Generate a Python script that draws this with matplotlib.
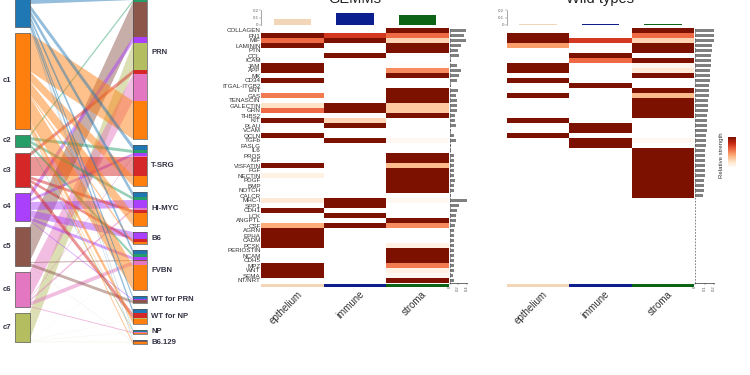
import numpy as np
import matplotlib
matplotlib.use("Agg")
import matplotlib.pyplot as plt
from matplotlib.colors import LinearSegmentedColormap

plt.rcParams['font.family'] = ['Liberation Sans', 'DejaVu Sans']

clusters = ["c0", "c1", "c2", "c3", "c4", "c5", "c6", "c7"]
cluster_colors = ["#1f77b4", "#ff7f0e", "#279e68", "#d62728", "#aa40fc", "#8c564b", "#e377c2", "#b5bd61"]
cluster_sizes = [56, 96, 12, 34, 28, 39, 35, 29]

models = ["PRN", "T-SRG", "HI-MYC", "B6", "FVBN", "WT for PRN", "WT for NP", "NP", "B6.129"]
# (cluster, width) stacked top to bottom in each model
prn_flows = [(0, 33), (2, 2), (5, 35), (4, 6), (7, 27), (3, 4), (6, 27), (1, 38)]
tsrg_flows = [(0, 5), (2, 3), (4, 3), (6, 1), (3, 19), (1, 10)]
himyc_flows = [(0, 5), (2, 3), (4, 8), (6, 2), (3, 3), (1, 13)]
b6_flows = [(4, 7), (3, 3), (1, 2)]
fvbn_flows = [(0, 4), (2, 3), (4, 3), (5, 1), (6, 4), (7, 0.4), (1, 25)]
wtprn_flows = [(0, 3), (4, 1), (5, 3)]
wtnp_flows = [(0, 4), (3, 5), (7, 0.4), (1, 5)]
np_flows = [(2, 1), (0, 1), (7, 0.4), (6, 1), (1, 1)]
b6129_flows = [(0, 1), (5, 0.5), (7, 0.8), (1, 2)]
model_flows = [prn_flows, tsrg_flows, himyc_flows, b6_flows, fvbn_flows, wtprn_flows, wtnp_flows, np_flows, b6129_flows]

genes = ["COLLAGEN", "FN1", "MIF", "LAMININ", "PTN", "CCL", "ICAM", "JAM", "APP", "MK", "CD34",
         "ITGAL-ITGB2", "ENT", "GAS", "TENASCIN", "GALECTIN", "GRN", "THBS2", "KIT", "PLAU",
         "VCAM", "OCLN", "TGFb", "FASLG", "IL6", "PROS", "IGF", "VISFATIN", "FGF", "NECTIN",
         "PDGF", "BMP", "NOTCH", "CALCR", "MHC-I", "SPP1", "CDH1", "LCK", "ANGPTL", "CSF",
         "AGRN", "EPHA", "CADM", "PCSK", "PERIOSTIN", "NCAM", "CDH5", "MPZ", "WNT", "SEMA", "NT/NRT"]
cell_types = ["epthelium", "immune", "stroma"]
cell_colors = ["#f3d6b8", "#0b1f8e", "#0c6414"]

gemm_epi = [0, 1, .6, 1, 0, 0, 0, 1, 1, 0, 1, 0, 0, .55, 0, .2, .6, 0, 1, 0, 0, 1, 0, 0, 0, 0,
            0, 1, 0, .1, 0, 0, 0, 0, .15, 0, 1, 0, 0, .4, 1, 1, 1, 1, 0, 0, 0, 1, 1, 1, 0]
gemm_imm = [0, .75, 1, 0, 0, 1, 0, 0, 0, 0, 0, 0, 0, 0, 0, 1, 1, 0, .25, 1, 0, 0, 1, 0, 0, 0,
            0, 0, 0, 0, 0, 0, 0, 0, 1, 1, 0, 1, 0, 1, 0, 0, 0, 0, 0, 0, 0, 0, 0, 0, 0]
gemm_str = [1, .6, .25, 1, 1, 0, 0, .02, .5, 1, 0, 0, 1, 1, 1, .3, .3, 1, 0, 0, 0, 0, .05, 0, 0, 1,
            1, .35, 1, 1, 1, 1, 1, 0, .05, 0, 0, 0, 1, .5, 0, 0, 0, .1, 1, 1, 1, .55, .1, .05, 1]

wt_epi = [0, 1, 1, .45, 0, 0, 0, 1, 1, 0, 1, 0, 0, 1, 0, 0, 0, 0, 1, 0, 0, 1, 0, 0, 0, 0,
          0, 0, 0, 0, 0, 0, 0, 0, 0, 0, 0, 0, 0, 0, 0, 0, 0, 0, 0, 0, 0, 0, 0, 0, 0]
wt_imm = [0, 0, .75, 0, 0, 1, .6, 0, 0, 0, 0, 1, 0, 0, 0, 0, 0, 0, 0, 1, 1, 0, 1, 1, 0, 0,
          0, 0, 0, 0, 0, 0, 0, 0, 0, 0, 0, 0, 0, 0, 0, 0, 0, 0, 0, 0, 0, 0, 0, 0, 0]
wt_str = [1, .6, .25, 1, 1, 0, 1, .05, .15, 1, 0, 0, 1, .35, 1, 1, 1, 1, 0, 0, 0, 0, .05, 0, 1, 1,
          1, 1, 1, 1, 1, 1, 1, 1, 0, 0, 0, 0, 0, 0, 0, 0, 0, 0, 0, 0, 0, 0, 0, 0, 0]

gemm_strength = [.38, .34, .37, .26, .2, .22, .02, .16, .26, .22, .18, .02, .2, .14, .16, .16, .18,
                 .13, .13, .15, .02, .11, .14, .02, .02, .1, .1, .09, .09, .1, .12, .09, .09, .02,
                 .44, .21, .17, .14, .14, .12, .1, .1, .1, .1, .1, .1, .1, .09, .1, .08, .1]
wt_strength = [.22, .21, .2, .18, .175, .17, .17, .165, .16, .16, .155, .15, .15, .145, .14, .14, .14,
               .13, .125, .125, .125, .12, .12, .115, .11, .11, .105, .1, .1, .1, .095, .095, .09, .085,
               0, 0, 0, 0, 0, 0, 0, 0, 0, 0, 0, 0, 0, 0, 0, 0, 0]

gemm_outgoing = [.075, .155, .13]
wt_outgoing = [.012, .015, .02]

W, H = 750, 375
heat_cmap = LinearSegmentedColormap.from_list(
    "strength", ["#ffffff", "#fee3c8", "#fdae78", "#ee6a45", "#c92a14", "#7c1100"])


def axes_px(x0, y0, x1, y1):
    return fig.add_axes([x0 / W, 1 - y1 / H, (x1 - x0) / W, (y1 - y0) / H])


fig = plt.figure(figsize=(7.5, 3.75), dpi=100)

# alluvial part, axes units are pixels
ax = axes_px(0, 0, 190, 375)
ax.set_xlim(0, 190)
ax.set_ylim(375, 0)
ax.axis("off")
LEFT_X0, LEFT_X1, RIGHT_X0, RIGHT_X1 = 15, 29.5, 133, 147
GAP = 6

left_tops = []
pos = -29
for size in cluster_sizes:
    left_tops.append(pos)
    pos += size + GAP
left_used = list(left_tops)

right_top = -33
for model, flows in zip(models, model_flows):
    y = right_top
    for c, w in flows:
        y_left = left_used[c]
        left_used[c] += w
        ax.fill([LEFT_X1, RIGHT_X0, RIGHT_X0, LEFT_X1], [y_left, y, y + w, y_left + w],
                color=cluster_colors[c], alpha=0.48 if w >= 1 else 0.13, lw=0, zorder=1)
        ax.fill([RIGHT_X0, RIGHT_X1, RIGHT_X1, RIGHT_X0], [y, y, y + w, y + w],
                color=cluster_colors[c], lw=0, zorder=3)
        y += w
    ax.plot([RIGHT_X0, RIGHT_X1, RIGHT_X1, RIGHT_X0, RIGHT_X0],
            [right_top, right_top, y, y, right_top], color="#555555", lw=0.5, zorder=4)
    ax.text(151, (right_top + y) / 2, model, fontsize=5.6, fontweight="bold", color="#333344", va="center")
    right_top = y + GAP

for name, color, top, size in zip(clusters, cluster_colors, left_tops, cluster_sizes):
    ax.fill([LEFT_X0, LEFT_X1, LEFT_X1, LEFT_X0], [top, top, top + size, top + size],
            facecolor=color, edgecolor="#555555", lw=0.5, zorder=3)
    ax.text(7, top + size / 2, name, fontsize=5.6, fontweight="bold", color="#333344", ha="center", va="center")


def draw_panel(x0, x1, rows, strength, outgoing, strength_max, side_x1, top_ticks, side_ticks, label_genes, tick_x):
    heat = axes_px(x0, 28, x1, 283)
    heat.pcolormesh(np.arange(4), np.arange(len(genes) + 1), np.array(rows).T,
                    cmap=heat_cmap, vmin=0, vmax=1)
    heat.set_ylim(len(genes), 0)
    heat.set_xticks([])
    heat.set_yticks([])
    for s in heat.spines.values():
        s.set_visible(False)
    if label_genes:
        heat.set_yticks(np.arange(len(genes)) + 0.5)
        heat.set_yticklabels(genes, fontsize=4.5, color="#333333")
        heat.tick_params(axis="y", length=0, pad=0.5)

    top = axes_px(x0, 10, x1, 25)
    top.bar(np.arange(3) + 0.5, outgoing, width=0.6, color=cell_colors)
    top.set_xlim(0, 3)
    top.set_ylim(0, 0.2)
    top.set_xticks([])
    top.set_yticks(top_ticks)
    top.set_yticklabels(["0", "0.1", "0.2"], fontsize=3.2, color="#666666")
    top.tick_params(axis="y", length=1.2, width=0.3, pad=0.8, color="#666666")
    for s in ["top", "right", "bottom"]:
        top.spines[s].set_visible(False)
    top.spines["left"].set_linewidth(0.4)
    top.spines["left"].set_color("#666666")
    top.patch.set_alpha(0)

    side = axes_px(x1 + 0.7, 28, side_x1, 283)
    side.barh(np.arange(len(genes)) + 0.5, strength, height=0.72, color="#808080")
    side.set_ylim(len(genes), 0)
    side.set_xlim(0, strength_max)
    side.set_yticks([])
    side.set_xticks(side_ticks)
    side.set_xticklabels([str(t) if t else "0" for t in side_ticks], fontsize=3, rotation=90, color="#555555")
    side.tick_params(axis="x", length=1.2, width=0.3, pad=0.6, color="#555555")
    for s in ["top", "right"]:
        side.spines[s].set_visible(False)
    side.spines["bottom"].set_linewidth(0.4)
    side.spines["left"].set_linewidth(0.5)
    side.spines["left"].set_linestyle((0, (1.5, 3)))
    side.spines["left"].set_color("#555555")
    side.patch.set_alpha(0)

    strip = axes_px(x0, 284, x1, 287)
    strip.bar(np.arange(3) + 0.5, [1, 1, 1], width=1, color=cell_colors)
    strip.set_xlim(0, 3)
    strip.set_ylim(0, 1)
    strip.axis("off")

    for i, name in enumerate(cell_types):
        fig.text(tick_x[i] / W, 1 - 289 / H, name, fontsize=7, color="#333333", rotation=45,
                 rotation_mode="anchor", ha="right", va="top")


draw_panel(261.3, 449, [gemm_epi, gemm_imm, gemm_str], gemm_strength, gemm_outgoing, 0.4, 467,
           [0, 0.1, 0.2], [0, 0.2, 0.4], True, [297, 359, 421])
draw_panel(506.7, 694.3, [wt_epi, wt_imm, wt_str], wt_strength, wt_outgoing, 0.2, 714,
           [0, 0.1, 0.2], [0, 0.1, 0.2], False, [542, 604, 667])

fig.text(355 / W, 1 + 1 / H, "GEMMs", fontsize=10.5, color="#222222", ha="center", va="center")
fig.text(600 / W, 1 + 1 / H, "Wild types", fontsize=10.5, color="#222222", ha="center", va="center")

# colour legend
cbar = axes_px(727.7, 137, 735, 168)
cbar.imshow(np.linspace(1, 0, 64).reshape(-1, 1), cmap=heat_cmap, aspect="auto", vmin=0, vmax=1)
cbar.axis("off")
fig.text(721.7 / W, 1 - 155 / H, "Relative strength", fontsize=4.3, color="#333333",
         rotation=90, ha="center", va="center")

fig.savefig("out.png", dpi=100)
